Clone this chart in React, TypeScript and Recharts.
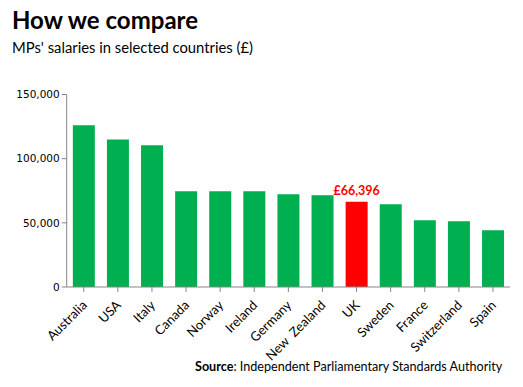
import React from "react";
import { BarChart, Bar, XAxis, YAxis, Cell, LabelList } from "recharts";

const countries = ["Australia", "USA", "Italy", "Canada", "Norway", "Ireland", "Germany", "New  Zealand", "UK", "Sweden", "France", "Switzerland", "Spain"];
const salaries = [126000, 115000, 110500, 74600, 74600, 74600, 72300, 71500, 66396, 64500, 52100, 51300, 44300];
const yTicks = [0, 50000, 100000, 150000];
const highlight = "UK";

const data = countries.map((c, i) => ({ country: c, salary: salaries[i] }));

const FONT = "Lato, 'Open Sans', sans-serif";

const XTick = (props: any) => {
  const { x, y, payload } = props;
  return (
    <g transform={`translate(${x + 4},${y + 12})`}>
      <text transform="rotate(-45)" textAnchor="end" fontFamily={FONT} fontSize={13} fill="#000" style={{ whiteSpace: "pre" }}>
        {payload.value}
      </text>
    </g>
  );
};

const UkLabel = (props: any) => {
  const { x, y, width, index } = props;
  if (countries[index] !== highlight) return null;
  return (
    <text x={x + width / 2} y={y - 7} textAnchor="middle" fontFamily={FONT} fontWeight="bold" fontSize={12.5} fill="#FF0000">
      £{salaries[index].toLocaleString("en-GB")}
    </text>
  );
};

export default function App() {
  return (
    <div style={{ position: "absolute", left: 0, top: 0, width: 523, height: 387, background: "#fff" }}>
      <div style={{ position: "absolute", left: 12, top: 5, fontFamily: FONT, fontWeight: "bold", fontSize: 24, color: "#000", whiteSpace: "nowrap" }}>
        How we compare
      </div>
      <div style={{ position: "absolute", left: 12, top: 38, fontFamily: FONT, fontSize: 14.8, color: "#000", whiteSpace: "nowrap" }}>
        MPs' salaries in selected countries (£)
      </div>
      <BarChart width={523} height={387} data={data} margin={{ top: 94.5, right: 13, bottom: 20, left: 0 }} barCategoryGap="18%">
        <YAxis
          width={66.7}
          domain={[0, 150000]}
          ticks={yTicks}
          tickFormatter={(v: number) => v.toLocaleString("en-US")}
          axisLine={{ stroke: "#868686" }}
          tickLine={{ stroke: "#868686" }}
          tickSize={5}
          tick={{ fontFamily: "DejaVu Sans", fontSize: 10.5, fill: "#000" }}
        />
        <XAxis
          dataKey="country"
          interval={0}
          height={80}
          axisLine={{ stroke: "#868686" }}
          tickLine={{ stroke: "#868686" }}
          tickSize={5}
          tick={<XTick />}
          scale="band"
        />
        <Bar dataKey="salary" isAnimationActive={false}>
          {data.map((d, i) => (
            <Cell key={i} fill={d.country === highlight ? "#FF0000" : "#00B050"} />
          ))}
          <LabelList dataKey="salary" content={<UkLabel />} />
        </Bar>
      </BarChart>
      <div style={{ position: "absolute", left: 195, top: 359, fontFamily: FONT, fontSize: 12.6, color: "#000", whiteSpace: "nowrap" }}>
        <b>Source</b>: Independent Parliamentary Standards Authority
      </div>
    </div>
  );
}
